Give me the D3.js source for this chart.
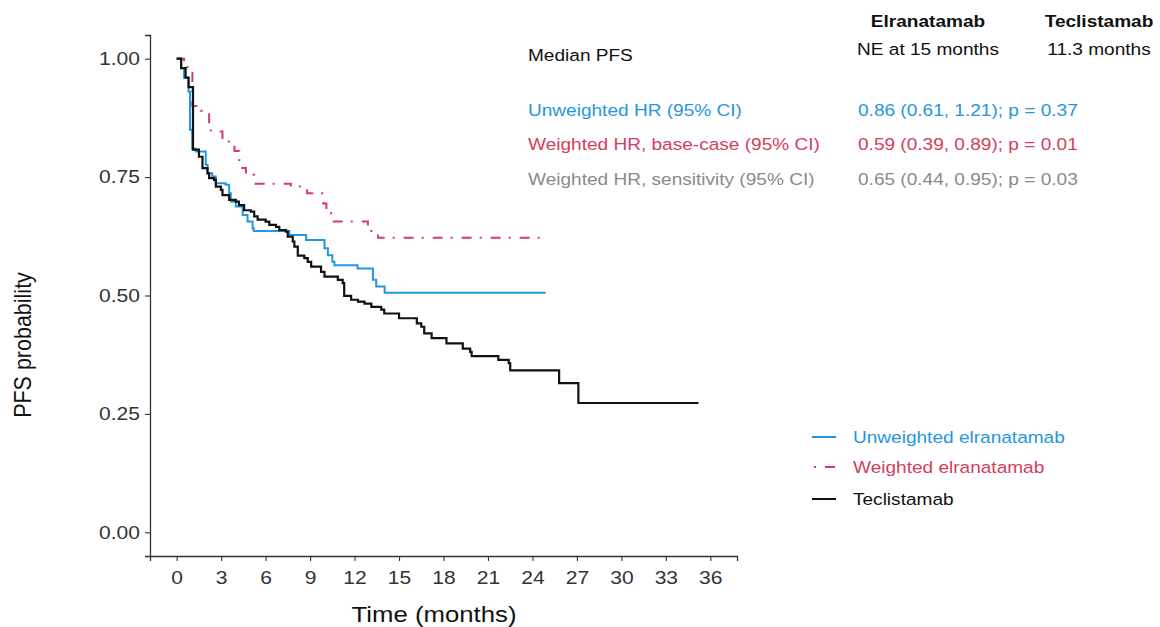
<!DOCTYPE html>
<html>
<head>
<meta charset="utf-8">
<script src="https://cdn.jsdelivr.net/npm/d3@7/dist/d3.min.js"></script>
<style>
  html, body { margin: 0; padding: 0; background: #fff; }
  svg { display: block; font-family: "Liberation Sans", Arial, sans-serif; }
</style>
</head>
<body>
<svg id="chart" width="1160" height="627"></svg>
<script>
// Kaplan-Meier step estimates: event times (months) and survival after each step
const tecTime = [0, 0.3, 0.6, 0.8, 1.1, 1.5, 1.74, 2.08, 2.19, 2.52, 2.64, 2.98, 3.09, 3.54, 3.99, 4.2, 4.55, 5.0, 5.23, 5.46, 6.0, 6.25, 6.7, 6.92, 7.37, 7.49, 7.83, 7.94, 8.17, 8.61, 8.84, 9.07, 9.74, 9.97, 10.87, 11.2, 11.3, 11.77, 12.23, 12.67, 13.13, 13.8, 14.0, 15.0, 16.2, 16.5, 16.7, 17.2, 18.2, 19.3, 19.8, 19.9, 21.7, 22.4, 22.5, 25.8, 27.1];
const tecSurv = [1.00, 0.98, 0.96, 0.94, 0.808, 0.793, 0.769, 0.758, 0.748, 0.744, 0.730, 0.723, 0.712, 0.702, 0.698, 0.691, 0.680, 0.677, 0.667, 0.660, 0.656, 0.649, 0.645, 0.638, 0.635, 0.624, 0.614, 0.603, 0.584, 0.579, 0.571, 0.561, 0.550, 0.540, 0.533, 0.526, 0.499, 0.491, 0.487, 0.483, 0.476, 0.470, 0.462, 0.452, 0.441, 0.434, 0.420, 0.410, 0.399, 0.388, 0.381, 0.372, 0.364, 0.357, 0.342, 0.315, 0.273];
const tecEnd = 35.2;

const unwTime = [0, 0.3, 0.5, 0.8, 0.9, 1.05, 1.29, 1.96, 2.08, 2.4, 2.64, 3.3, 3.54, 3.65, 3.99, 4.45, 4.78, 5.12, 5.2, 7.6, 8.73, 9.97, 10.2, 10.5, 10.64, 12.2, 13.24, 13.46, 14.03];
const unwSurv = [1.00, 0.98, 0.96, 0.93, 0.85, 0.81, 0.804, 0.776, 0.758, 0.751, 0.737, 0.734, 0.716, 0.698, 0.688, 0.670, 0.656, 0.642, 0.636, 0.628, 0.617, 0.600, 0.585, 0.571, 0.564, 0.557, 0.533, 0.519, 0.506];
const unwEnd = 24.9;

const wtdTime = [0, 0.5, 0.72, 1.06, 1.4, 1.62, 2.19, 2.3, 3.09, 3.43, 3.9, 4.22, 4.33, 4.67, 5.23, 7.7, 8.8, 9.9, 10.1, 10.42, 12.9, 13.13, 13.58];
const wtdSurv = [1.00, 0.99, 0.97, 0.90, 0.896, 0.89, 0.857, 0.846, 0.829, 0.825, 0.805, 0.786, 0.769, 0.755, 0.736, 0.730, 0.716, 0.694, 0.674, 0.656, 0.642, 0.631, 0.622];
const wtdEnd = 24.9;

const xTicks = [0, 3, 6, 9, 12, 15, 18, 21, 24, 27, 30, 33, 36];
const yTicks = [0, 0.25, 0.5, 0.75, 1.0];

const legendLabels = ["Unweighted elranatamab", "Weighted elranatamab", "Teclistamab"];
const colHeads = ["Elranatamab", "Teclistamab"];
const medianLabel = "Median PFS";
const medianValues = ["NE at 15 months", "11.3 months"];
const hrLabels = ["Unweighted HR (95% CI)", "Weighted HR, base-case (95% CI)", "Weighted HR, sensitivity (95% CI)"];
const hrValues = ["0.86 (0.61, 1.21); p = 0.37", "0.59 (0.39, 0.89); p = 0.01", "0.65 (0.44, 0.95); p = 0.03"];

const BLUE = "#2596e0", RED = "#d43d5c", GRAY = "#8a8a8a", BLACK = "#111";
const SX = 1.17;   // horizontal glyph stretch used for all labels

const svg = d3.select("#chart");

const x = d3.scaleLinear().domain([-1.8, 37.8]).range([150, 737]);
const y = d3.scaleLinear().domain([-0.05, 1.05]).range([556, 35]);

// text helper: places a horizontally stretched label at (px, py)
function label(g, px, py, str, size, fill, anchor, bold) {
  return g.append("text")
    .attr("transform", `translate(${px},${py}) scale(${SX},1)`)
    .attr("text-anchor", anchor || "start")
    .attr("font-weight", bold ? "bold" : null)
    .style("font-size", size + "px")
    .attr("fill", fill)
    .text(str);
}

// axes
const xAxis = svg.append("g").attr("transform", "translate(0,556)")
  .call(d3.axisBottom(x).tickValues(xTicks).tickFormat(d3.format("d")).tickSize(5).tickPadding(10));
const yAxis = svg.append("g").attr("transform", "translate(150,0)")
  .call(d3.axisLeft(y).tickValues(yTicks).tickFormat(d3.format(".2f")).tickSize(5).tickPadding(5));
[xAxis, yAxis].forEach(g => {
  g.select(".domain").attr("stroke", "#333").attr("stroke-width", 1.3);
  g.selectAll(".tick line").attr("stroke", "#333").attr("stroke-width", 1.1);
  g.selectAll(".tick text").attr("fill", "#333").style("font-size", "18px")
    .style("font-family", "'Liberation Sans', Arial, sans-serif")
    .each(function () {
      const t = d3.select(this);
      const tx = +t.attr("x") || 0, ty = +t.attr("y") || 0;
      t.attr("x", 0).attr("y", 0).attr("transform", `translate(${tx},${ty}) scale(${SX},1)`);
    });
});

label(svg, 434, 622, "Time (months)", 22, "#111", "middle");
svg.append("text").attr("transform", "translate(31,345) rotate(-90) scale(1,1.12)").attr("text-anchor", "middle")
  .style("font-size", "21.5px").attr("fill", "#111").text("PFS probability");

// curves
const line = d3.line().x(d => x(d[0])).y(d => y(d[1])).curve(d3.curveStepAfter);
function pts(ts, ss, end) {
  const p = ts.map((t, i) => [t, ss[i]]);
  p.push([end, ss[ss.length - 1]]);
  return p;
}
svg.append("path").attr("d", line(pts(wtdTime, wtdSurv, wtdEnd)))
  .attr("fill", "none").attr("stroke", RED).attr("stroke-width", 2)
  .attr("stroke-dasharray", "10,8,2,9");
svg.append("path").attr("d", line(pts(unwTime, unwSurv, unwEnd)))
  .attr("fill", "none").attr("stroke", BLUE).attr("stroke-width", 2);
svg.append("path").attr("d", line(pts(tecTime, tecSurv, tecEnd)))
  .attr("fill", "none").attr("stroke", BLACK).attr("stroke-width", 2.2);

// summary table
const tbl = svg.append("g");
const FS = 16.3;
label(tbl, 928, 27, colHeads[0], FS, "#111", "middle", true);
label(tbl, 1099, 27, colHeads[1], FS, "#111", "middle", true);
label(tbl, 528, 61, medianLabel, FS, "#111");
label(tbl, 928, 55, medianValues[0], FS, "#111", "middle");
label(tbl, 1099, 55, medianValues[1], FS, "#111", "middle");
const hrCols = [BLUE, RED, GRAY];
const hrY = [116, 150, 185];
hrLabels.forEach((s, i) => {
  label(tbl, 528, hrY[i], s, FS, hrCols[i]);
  label(tbl, 858, hrY[i], hrValues[i], FS, hrCols[i]);
});

// legend
const legCols = [BLUE, RED, BLACK];
const legTextCols = [BLUE, RED, "#111"];
const legY = [437, 467, 499];
const leg = svg.append("g");
legendLabels.forEach((s, i) => {
  const l = leg.append("line").attr("x1", 812).attr("x2", 836).attr("y1", legY[i]).attr("y2", legY[i])
    .attr("stroke", legCols[i]).attr("stroke-width", 2);
  if (i === 1) l.attr("stroke-dasharray", "2,9,10,8").attr("x1", 814);
  label(leg, 853, legY[i] + 6, s, FS, legTextCols[i]);
});
</script>
</body>
</html>
